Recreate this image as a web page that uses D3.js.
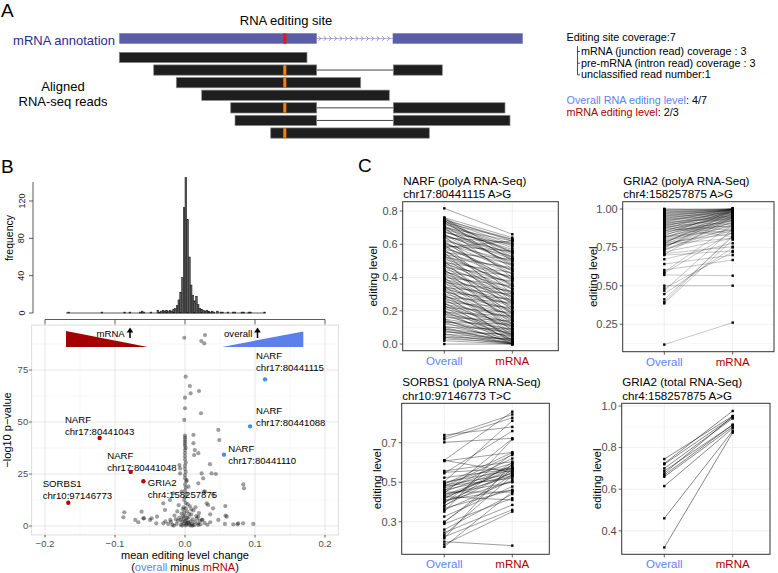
<!DOCTYPE html>
<html><head><meta charset="utf-8">
<script src="https://cdn.jsdelivr.net/npm/d3@7"></script>
<style>body{margin:0;background:#fff}svg{display:block;font-family:"Liberation Sans",Arial,Helvetica,sans-serif}</style>
</head><body><svg id="c" width="778" height="573"></svg>
<script>
// ================= DATA =================
// Panel A : gene model (arbitrary genomic units)
const exonStarts = [0, 273.4];
const exonEnds = [197.4, 403.4];
const editSite = 165.5;
const readBlocks = [
  [[0,187.7]],
  [[34.4,197.4],[274,323]],
  [[57,241.4]],
  [[82.4,270]],
  [[111.4,197.4],[274,385.7]],
  [[115.7,197.4],[274,390.7]],
  [[151.4,310]]
];
const readEdited = [false,true,true,false,true,false,true];
const coverageLines = ["mRNA (junction read) coverage : 3","pre-mRNA (intron read) coverage : 3","unclassified read number:1"];

// Panel B : histogram of mean editing level change (bin width 0.0025)
const histBinStart = [-0.1675,-0.12,-0.0875,-0.08,-0.065,-0.0625,-0.06,-0.05,-0.04,-0.0375,-0.035,-0.0325,-0.03,-0.0275,-0.025,-0.0225,-0.02,-0.0175,-0.015,-0.0125,-0.01,-0.0075,-0.005,-0.0025,0,0.0025,0.005,0.0075,0.01,0.0125,0.015,0.0175,0.02,0.0225,0.025,0.0275,0.03,0.0325,0.035,0.0375,0.04,0.045,0.05,0.0525,0.06,0.0675,0.07,0.08,0.0825,0.09,0.0925,0.1125];
const histCounts = [1,1,1,1,1,2,1,1,3,1,2,3,2,3,2,3,2,4,5,8,14,22,38,113,145,100,60,30,19,13,18,9,5,4,3,2,3,2,1,2,1,2,1,1,1,1,1,1,1,1,1,1];
const histTicks = [0,40,80,120];

// Panel B : volcano, unlabelled sites
const volcX = [-0.001,0.0286,0.0233,0.0276,0.001,0.007,0.020,0.008,0.0,0.0,0.0229,-0.001,0.0476,0.049,0.012,0.012,0.014,0.013,0.019,
  0,0,0,0,0,0,0.001,0,0,0,0,0.001,0,0,0.001,0,0,0.002,0,0.001,0,0.002,0,-0.001,0.001,
  0.0357,0.0238,-0.007,-0.008,-0.007,0.0024,0.005,-0.005,0.019,0.026,0.038,0.044,0.0833,0.0843,0.0286,0.040,-0.0167,-0.0214,-0.031,-0.0286,-0.062,-0.0595,-0.071,-0.05,-0.040,0.031,0.040,0.036,0.0595,0.0476,0.076,0.083,0.0976,0.057,0.019,0.024,-0.031,-0.021,
  -0.0867,-0.088,-0.0667,-0.0586,-0.041,-0.0476,0.027,0.033,0.0576,0.058,0.069,0.075,
  -0.012,-0.010,-0.008,-0.006,-0.005,-0.004,-0.003,-0.002,-0.001,0.000,0.001,0.002,0.003,0.004,0.005,0.006,0.007,0.008,0.009,0.010,0.011,0.012,0.013,0.014,0.016,0.018,0.020,0.022,0.025,0.028,-0.015,-0.018,-0.020,-0.024,-0.009,-0.002,0.004,0.001,-0.006,0.003,-0.001,0.006,0.009,-0.004,0.002,0.000,0.005,-0.003,0.008,0.015,0.017,0.011,-0.011,-0.013,0.021,0.019,0.032,0.036,-0.028,-0.016];
const volcY = [90.5,91.8,88.9,87.8,71.8,67.3,64.9,63.8,61.7,56.6,54.2,51.0,46.2,41.3,43.8,39.8,36.5,34.1,35.0,
  43.5,42.5,41.5,40.5,39.5,38.5,37.5,36.5,35,33.5,32,30.5,29,27.5,26,24.5,23,21.5,20,18.5,17,15.5,14,12.5,11,
  29.7,25.3,25.3,29.3,27.7,22.1,18.9,16.5,20.5,22.9,25.3,25.0,20.0,18.1,16.5,14.9,15.7,12.5,10.9,7.7,6.9,3.7,2.9,2.9,4.5,10.9,8.5,5.6,4.5,2.9,1.3,1.3,1.0,1.0,4.5,2.9,1.3,2.9,
  6.6,4.2,1.8,3.7,1.3,3.7,16.5,10.1,9.6,5.0,0.8,0.8,
  1.0,2.5,4.0,0.5,6.0,2.0,8.0,3.5,1.2,5.0,0.3,2.8,7.0,1.5,4.2,0.6,9.5,2.2,5.5,1.0,3.2,7.5,0.4,2.0,4.8,1.2,6.2,0.8,3.0,1.5,5.0,0.5,2.0,1.0,10.0,9.0,10.5,8.5,3.0,3.8,6.5,5.8,8.0,0.2,0.9,2.4,1.8,4.6,0.2,9.0,3.5,0.2,7.0,3.2,2.5,0.5,0.6,1.8,2.2,0.2];
// labelled sites
const labGene = ["NARF","NARF","NARF","NARF","NARF","GRIA2","SORBS1"];
const labSite = ["chr17:80441115","chr17:80441088","chr17:80441110","chr17:80441043","chr17:80441048","chr4:158257875","chr10:97146773"];
const labX = [0.1143,0.093,0.0557,-0.122,-0.0776,-0.0595,-0.1667];
const labY = [70.5,47.9,34.3,42.3,26.0,21.5,11.2];
const labGroup = ["overall","overall","overall","mRNA","mRNA","mRNA","mRNA"];
const volcXTicks = [-0.2,-0.1,0,0.1,0.2];
const volcYTicks = [0,25,50,75];

// Panel C : paired editing levels
const xCats = ["Overall","mRNA"];
const narfPolyOverall = [0.816,0.76,0.75,0.74,0.73,0.72,0.71,0.70,0.69,0.68,0.67,0.66,0.65,0.64,0.63,0.62,0.61,0.60,0.59,0.58,0.57,0.56,0.55,0.54,0.53,0.52,0.51,0.50,0.49,0.48,0.47,0.46,0.45,0.44,0.43,0.42,0.41,0.40,0.39,0.38,0.37,0.36,0.35,0.34,0.33,0.32,0.31,0.30,0.29,0.28,0.27,0.26,0.25,0.24,0.23,0.22,0.21,0.20,0.19,0.18,0.17,0.16,0.15,0.14,0.13,0.12,0.11,0.10,0.09,0.08,0.07,0.06,0.05,0.04,0.03,0.02,0.00,
  0.755,0.745,0.70,0.65,0.60,0.58,0.55,0.50,0.45,0.40,0.35,0.30,0.25,0.20,0.15,0.10,0.62,0.57,0.52,0.47,0.42,0.37,0.32,0.27,0.22,0.74,0.71,0.66,0.61,0.56,0.53,0.48,0.43,0.38,0.33,0.28,0.23,0.18,0.13,0.08,0.76,0.73,0.69,0.64,0.59,0.54,0.49,0.44,0.39,0.34,0.29,0.24,0.19,0.14,0.09,0.06,0.04,0.745,0.725,0.70,0.675,0.655];
const narfPolyMrna = [0.66,0.64,0.62,0.60,0.63,0.58,0.55,0.62,0.57,0.52,0.60,0.49,0.55,0.61,0.47,0.53,0.44,0.50,0.56,0.42,0.48,0.39,0.51,0.45,0.36,0.46,0.40,0.33,0.43,0.37,0.30,0.41,0.34,0.28,0.38,0.31,0.25,0.35,0.29,0.22,0.32,0.26,0.20,0.30,0.24,0.17,0.27,0.21,0.15,0.25,0.18,0.12,0.22,0.16,0.10,0.19,0.13,0.08,0.17,0.11,0.06,0.14,0.09,0.04,0.12,0.07,0.03,0.09,0.05,0.02,0.06,0.03,0.01,0.03,0.01,0.00,0.00,
  0.50,0.45,0.40,0.30,0.25,0.62,0.20,0.15,0.12,0.08,0.05,0.02,0.01,0.0,0.0,0.0,0.35,0.28,0.24,0.18,0.14,0.10,0.07,0.04,0.02,0.55,0.47,0.42,0.38,0.33,0.27,0.22,0.19,0.16,0.12,0.09,0.05,0.03,0.01,0.0,0.52,0.51,0.48,0.44,0.39,0.35,0.31,0.26,0.23,0.19,0.14,0.11,0.07,0.06,0.02,0.0,0.0,0.63,0.59,0.56,0.54,0.51];
const gria2PolyOverall = [0.118,0.386,0.395,0.412,0.447,0.469,0.484,0.501,0.571,0.582,0.59,0.603,0.642,0.673,0.705,0.70,0.71,0.72,
  0.73,0.74,0.75,0.76,0.77,0.78,0.79,0.80,0.81,0.82,0.83,0.84,0.85,0.86,0.87,0.88,0.89,0.90,0.91,0.92,0.93,0.94,0.95,0.96,0.97,0.98,0.99,1.0,
  0.735,0.745,0.755,0.765,0.775,0.785,0.795,0.805,0.815,0.825,0.835,0.845,0.855,0.865,0.875,0.885,0.895,0.905,0.915,0.925,0.935,0.945,0.955,0.965,0.975,0.985,0.995,1.0,0.99,0.98,0.97,0.96,0.95,0.94,0.93,0.92,0.91,0.90,0.89,0.88,0.78,0.77,0.82,0.86];
const gria2PolyMrna = [0.261,0.80,0.83,0.82,0.75,0.87,0.72,0.501,0.566,0.85,0.90,0.668,0.70,0.777,0.95,0.727,0.755,0.81,
  0.92,0.88,0.96,0.90,0.94,0.97,0.89,0.93,0.99,0.91,0.95,0.98,0.92,0.96,1.0,0.94,0.97,0.99,0.95,1.0,0.98,0.99,1.0,0.99,1.0,1.0,1.0,1.0,
  0.86,0.99,0.93,0.87,1.0,0.95,0.91,0.97,0.94,1.0,0.93,0.97,0.99,0.95,0.98,1.0,0.96,0.98,1.0,0.97,1.0,0.98,1.0,0.99,1.0,0.99,1.0,0.99,0.98,0.97,0.96,0.95,0.94,0.93,0.92,0.90,0.88,0.86,0.84,0.82,0.84,0.81,0.86,0.89];
const sorbsOverall = [0.739,0.727,0.717,0.702,0.611,0.607,0.611,0.557,0.545,0.523,0.503,0.494,0.486,0.478,0.461,0.452,0.444,0.435,0.427,0.415,0.402,0.394,0.382,0.368,0.351,0.326,0.297,0.289,0.245,0.233,0.224,0.216,0.199,0.185,0.173,
  0.50,0.48,0.46,0.44,0.42,0.40,0.49,0.47,0.43,0.41,0.38,0.36,0.30,0.26,0.55,0.45];
const sorbsMrna = [0.78,0.843,0.826,0.722,0.857,0.651,0.55,0.604,0.759,0.567,0.811,0.595,0.541,0.638,0.533,0.575,0.72,0.558,0.41,0.587,0.503,0.643,0.55,0.461,0.717,0.478,0.567,0.419,0.385,0.533,0.36,0.595,0.179,0.351,0.451,
  0.56,0.52,0.62,0.50,0.57,0.55,0.65,0.58,0.53,0.46,0.60,0.51,0.54,0.44,0.57,0.45];
const gria2TotalOverall = [0.745,0.724,0.72,0.6875,0.676,0.66,0.615,0.46,0.32,0.70,0.668];
const gria2TotalMrna = [0.952,0.976,0.946,0.909,0.95,0.90,0.893,0.88,0.872,0.94,0.91];

// ================= DRAW =================
const svg = d3.select("#c");
const BLUE = "#5b84f0", RED = "#b00000";

function txt(g, x, y, s, o = {}) {
  const t = g.append("text").attr("x", x).attr("y", y).text(s)
    .attr("font-size", o.size || 11).attr("fill", o.fill || "#000")
    .attr("text-anchor", o.anchor || "start");
  if (o.rotate) t.attr("transform", `rotate(-90,${x},${y})`);
  if (o.dy) t.attr("dy", o.dy);
  return t;
}

// panel letters
txt(svg, 1, 17, "A", {size: 19});
txt(svg, 1, 173, "B", {size: 19});
txt(svg, 358, 172, "C", {size: 19});

// ---------- Panel A ----------
const gA = svg.append("g");
const gx = d3.scaleLinear().domain([0, 403.4]).range([119.3, 522.7]);
const rowY = d3.scaleLinear().domain([0, 1]).range([52.3, 64.9]);
txt(gA, 286, 25, "RNA editing site", {size: 13, anchor: "middle"});
txt(gA, 115, 44.5, "mRNA annotation", {size: 13, anchor: "end", fill: "#2b2b8f"});
// intron
gA.append("line").attr("x1", gx(exonEnds[0])).attr("x2", gx(exonStarts[1])).attr("y1", 38.5).attr("y2", 38.5)
  .attr("stroke", "#a0a0da").attr("stroke-width", 0.8);
d3.range(gx(exonEnds[0]) + 3, gx(exonStarts[1]) - 2, 5.3).forEach(cx => {
  gA.append("path").attr("d", `M${cx - 1.3},${36.3}L${cx + 1.2},${38.5}L${cx - 1.3},${40.7}`)
    .attr("fill", "none").attr("stroke", "#7c7cc8").attr("stroke-width", 0.8);
});
exonStarts.forEach((s, i) => {
  gA.append("rect").attr("x", gx(s)).attr("y", 33.3).attr("width", gx(exonEnds[i]) - gx(s)).attr("height", 10.4)
    .attr("fill", "#5b5ea6");
});
gA.append("rect").attr("x", gx(editSite) - 1.5).attr("y", 33.3).attr("width", 3).attr("height", 10.4).attr("fill", "#ff1010");
readBlocks.forEach((blocks, i) => {
  const y0 = rowY(i), h = 10.3;
  if (blocks.length > 1) {
    gA.append("line").attr("x1", gx(blocks[0][1])).attr("x2", gx(blocks[1][0])).attr("y1", y0 + h / 2).attr("y2", y0 + h / 2)
      .attr("stroke", "#444").attr("stroke-width", 1);
  }
  blocks.forEach(b => {
    gA.append("rect").attr("x", gx(b[0])).attr("y", y0).attr("width", gx(b[1]) - gx(b[0])).attr("height", h)
      .attr("fill", "#1e1e1e").attr("stroke", "#8a8a8a").attr("stroke-width", 0.7);
  });
  if (readEdited[i]) {
    gA.append("rect").attr("x", gx(editSite) - 1.5).attr("y", y0 + 0.4).attr("width", 3).attr("height", h - 0.8).attr("fill", "#ff7f00");
  }
});
txt(gA, 63, 90.7, "Aligned", {size: 13, anchor: "middle"});
txt(gA, 63, 106, "RNA-seq reads", {size: 13, anchor: "middle"});
// coverage text
txt(gA, 566.5, 40.7, "Editing site coverage:7", {size: 10.8});
const covY = [55, 66.7, 78.3];
gA.append("line").attr("x1", 577.5).attr("x2", 577.5).attr("y1", 46).attr("y2", covY[2] - 3.5).attr("stroke", "#222").attr("stroke-width", 0.8);
coverageLines.forEach((s, i) => {
  gA.append("line").attr("x1", 577.5).attr("x2", 580).attr("y1", covY[i] - 3.5).attr("y2", covY[i] - 3.5).attr("stroke", "#222").attr("stroke-width", 0.8);
  txt(gA, 581, covY[i], s, {size: 10.8});
});
const t1 = txt(gA, 566.5, 104, "", {size: 10.8});
t1.append("tspan").attr("fill", BLUE).text("Overall RNA editing level");
t1.append("tspan").text(": 4/7");
const t2 = txt(gA, 566.5, 115.7, "", {size: 10.8});
t2.append("tspan").attr("fill", RED).text("mRNA editing level");
t2.append("tspan").text(": 2/3");

// ---------- Panel B : histogram ----------
const gB = svg.append("g");
const xV = d3.scaleLinear().domain([-0.2, 0.2]).range([45, 325]);
const yH = d3.scaleLinear().domain([0, 120]).range([313, 201]);
gB.append("line").attr("x1", xV(-0.17)).attr("x2", xV(0.115)).attr("y1", yH(0)).attr("y2", yH(0)).attr("stroke", "#333").attr("stroke-width", 0.8);
histBinStart.forEach((b, i) => {
  gB.append("rect").attr("x", xV(b)).attr("width", xV(b + 0.0025) - xV(b))
    .attr("y", yH(histCounts[i])).attr("height", yH(0) - yH(histCounts[i]))
    .attr("fill", "#5a5a5a").attr("stroke", "#1a1a1a").attr("stroke-width", 0.5);
});
gB.append("line").attr("x1", 33).attr("x2", 33).attr("y1", yH(0)).attr("y2", 182).attr("stroke", "#333").attr("stroke-width", 0.8);
histTicks.forEach(t => {
  gB.append("line").attr("x1", 29).attr("x2", 33).attr("y1", yH(t)).attr("y2", yH(t)).attr("stroke", "#333").attr("stroke-width", 0.8);
  txt(gB, 24.5, yH(t), String(t), {size: 9, anchor: "middle", rotate: true, fill: "#222"});
});
txt(gB, 13, 238, "frequency", {size: 10.5, anchor: "middle", rotate: true});
gB.append("line").attr("x1", xV(-0.2)).attr("x2", xV(0.2)).attr("y1", 319.5).attr("y2", 319.5).attr("stroke", "#333").attr("stroke-width", 0.8);
volcXTicks.forEach(t => {
  gB.append("line").attr("x1", xV(t)).attr("x2", xV(t)).attr("y1", 319.5).attr("y2", 324.5).attr("stroke", "#333").attr("stroke-width", 0.8);
});

// ---------- Panel B : volcano ----------
const yV = d3.scaleLinear().domain([0, 75]).range([526, 370]);
const pL = xV(-0.219), pR = xV(0.219), pT = yV(96.6), pB = yV(-4.3);
[-0.15, -0.05, 0.05, 0.15].forEach(t => gB.append("line").attr("x1", xV(t)).attr("x2", xV(t)).attr("y1", pT).attr("y2", pB).attr("stroke", "#f1f1f1").attr("stroke-width", 0.6));
[12.5, 37.5, 62.5, 87.5].forEach(t => gB.append("line").attr("x1", pL).attr("x2", pR).attr("y1", yV(t)).attr("y2", yV(t)).attr("stroke", "#f1f1f1").attr("stroke-width", 0.6));
volcXTicks.forEach(t => gB.append("line").attr("x1", xV(t)).attr("x2", xV(t)).attr("y1", pT).attr("y2", pB).attr("stroke", "#e4e4e4").attr("stroke-width", 0.9));
volcYTicks.forEach(t => gB.append("line").attr("x1", pL).attr("x2", pR).attr("y1", yV(t)).attr("y2", yV(t)).attr("stroke", "#e4e4e4").attr("stroke-width", 0.9));
gB.append("rect").attr("x", pL).attr("y", pT).attr("width", pR - pL).attr("height", pB - pT).attr("fill", "none").attr("stroke", "#d4d4d4").attr("stroke-width", 0.8);
// axes
volcYTicks.forEach(t => {
  gB.append("line").attr("x1", pL - 2.5).attr("x2", pL).attr("y1", yV(t)).attr("y2", yV(t)).attr("stroke", "#333").attr("stroke-width", 0.8);
  txt(gB, pL - 3.5, yV(t), String(t), {size: 9.5, anchor: "end", fill: "#4d4d4d", dy: "0.35em"});
});
volcXTicks.forEach(t => {
  gB.append("line").attr("x1", xV(t)).attr("x2", xV(t)).attr("y1", pB).attr("y2", pB + 2.5).attr("stroke", "#333").attr("stroke-width", 0.8);
  txt(gB, xV(t), 547, t === 0 ? "0.0" : d3.format(".1f")(t).replace("-", "\u2212"), {size: 9.5, anchor: "middle", fill: "#4d4d4d"});
});
txt(gB, 185, 559, "mean editing level change", {size: 11, anchor: "middle"});
const xt2 = txt(gB, 185, 570.5, "", {size: 11, anchor: "middle"});
xt2.append("tspan").text("(");
xt2.append("tspan").attr("fill", BLUE).text("overall");
xt2.append("tspan").text(" minus ");
xt2.append("tspan").attr("fill", RED).text("mRNA");
xt2.append("tspan").text(")");
txt(gB, 11, 430, "\u2212log10 p\u2212value", {size: 11, anchor: "middle", rotate: true});
// direction triangles
const triRedX = [-0.17, -0.17, -0.053], triRedY = [93.75, 86.1, 86.1];
const triBlueX = [0.053, 0.169, 0.169], triBlueY = [86.1, 93.5, 86.1];
const poly = (xs, ys) => xs.map((x, i) => [xV(x), yV(ys[i])].join(",")).join(" ");
gB.append("polygon").attr("points", poly(triRedX, triRedY)).attr("fill", "#a50000");
gB.append("polygon").attr("points", poly(triBlueX, triBlueY)).attr("fill", "#5a80ec");
function upArrow(cx) {
  gB.append("line").attr("x1", cx).attr("x2", cx).attr("y1", 331).attr("y2", 338).attr("stroke", "#000").attr("stroke-width", 1.5);
  gB.append("path").attr("d", `M${cx - 3.3},${332.5}L${cx},${327.5}L${cx + 3.3},${332.5}Z`).attr("fill", "#000");
}
txt(gB, 96.5, 336.5, "mRNA", {size: 9.6});
upArrow(130);
txt(gB, 224, 336.5, "overall", {size: 9.6});
upArrow(257.5);
// points
volcX.forEach((x, i) => {
  gB.append("circle").attr("cx", xV(x)).attr("cy", yV(volcY[i])).attr("r", 2.1).attr("fill", "#000").attr("fill-opacity", 0.38);
});
const labDx = [-9, 6, 4.3, -34.7, -23.4, 4.4, -25.6];
const labDy = [-20, -12.8, -3, -14.7, -13, 4.7, -16];
labX.forEach((x, i) => {
  const px = xV(x), py = yV(labY[i]);
  gB.append("circle").attr("cx", px).attr("cy", py).attr("r", 2.2).attr("fill", labGroup[i] === "overall" ? "#3f8ef5" : "#c00000");
  txt(gB, px + labDx[i], py + labDy[i], labGene[i], {size: 9.6});
  txt(gB, px + labDx[i], py + labDy[i] + 12, labSite[i], {size: 9.6});
});

// ---------- Panel C ----------
function pairPlot(cfg) {
  const g = svg.append("g");
  const y = d3.scaleLinear().domain(cfg.yDomain).range([cfg.bottom, cfg.top]);
  const x = d3.scalePoint().domain(xCats).range(cfg.xRange);
  cfg.minor.forEach(t => g.append("line").attr("x1", cfg.left).attr("x2", cfg.right).attr("y1", y(t)).attr("y2", y(t)).attr("stroke", "#f4f4f4").attr("stroke-width", 0.6));
  cfg.ticks.forEach(t => g.append("line").attr("x1", cfg.left).attr("x2", cfg.right).attr("y1", y(t)).attr("y2", y(t)).attr("stroke", "#ececec").attr("stroke-width", 0.8));
  xCats.forEach(c => g.append("line").attr("x1", x(c)).attr("x2", x(c)).attr("y1", cfg.top).attr("y2", cfg.bottom).attr("stroke", "#ececec").attr("stroke-width", 0.8));
  cfg.overall.forEach((o, i) => {
    g.append("line").attr("x1", x("Overall")).attr("y1", y(o)).attr("x2", x("mRNA")).attr("y2", y(cfg.mrna[i]))
      .attr("stroke", "#000").attr("stroke-opacity", cfg.lineOpacity).attr("stroke-width", cfg.lineWidth);
  });
  cfg.overall.forEach((o, i) => {
    g.append("rect").attr("x", x("Overall") - 1.2).attr("y", y(o) - 1.2).attr("width", 2.4).attr("height", 2.4).attr("fill", "#000");
    g.append("rect").attr("x", x("mRNA") - 1.2).attr("y", y(cfg.mrna[i]) - 1.2).attr("width", 2.4).attr("height", 2.4).attr("fill", "#000");
  });
  g.append("rect").attr("x", cfg.left).attr("y", cfg.top).attr("width", cfg.right - cfg.left).attr("height", cfg.bottom - cfg.top)
    .attr("fill", "none").attr("stroke", "#333").attr("stroke-width", 1);
  cfg.ticks.forEach(t => {
    g.append("line").attr("x1", cfg.left - 3).attr("x2", cfg.left).attr("y1", y(t)).attr("y2", y(t)).attr("stroke", "#333").attr("stroke-width", 0.8);
    txt(g, cfg.left - 5, y(t), d3.format(cfg.fmt)(t), {size: 11, anchor: "end", fill: "#4d4d4d", dy: "0.35em"});
  });
  xCats.forEach(c => {
    g.append("line").attr("x1", x(c)).attr("x2", x(c)).attr("y1", cfg.bottom).attr("y2", cfg.bottom + 3).attr("stroke", "#333").attr("stroke-width", 0.8);
    txt(g, x(c), cfg.bottom + 14, c, {size: 11.5, anchor: "middle", fill: c === "Overall" ? BLUE : RED});
  });
  txt(g, cfg.yTitleX, (cfg.top + cfg.bottom) / 2, "editing level", {size: 11.5, anchor: "middle", rotate: true, dy: "0.35em"});
  txt(g, cfg.left + 0.5, cfg.top - 17, cfg.title1, {size: 11.6});
  txt(g, cfg.left + 0.5, cfg.top - 3.6, cfg.title2, {size: 11.6});
}
pairPlot({left: 402.7, right: 558.3, top: 201.7, bottom: 350.7, xRange: [444.3, 512.3], yDomain: [-0.040, 0.856],
  ticks: [0, 0.2, 0.4, 0.6, 0.8], minor: [0.1, 0.3, 0.5, 0.7], fmt: ".1f", yTitleX: 373.3,
  title1: "NARF (polyA RNA-Seq)", title2: "chr17:80441115 A>G", overall: narfPolyOverall, mrna: narfPolyMrna, lineOpacity: 0.42, lineWidth: 0.8});
pairPlot({left: 622.7, right: 774, top: 201.7, bottom: 351.7, xRange: [664.3, 732.7], yDomain: [0.0716, 1.0475],
  ticks: [0.25, 0.5, 0.75, 1.0], minor: [0.125, 0.375, 0.625, 0.875], fmt: ".2f", yTitleX: 593.3,
  title1: "GRIA2 (polyA RNA-Seq)", title2: "chr4:158257875 A>G", overall: gria2PolyOverall, mrna: gria2PolyMrna, lineOpacity: 0.32, lineWidth: 0.7});
pairPlot({left: 401.7, right: 549.3, top: 403.3, bottom: 554.3, xRange: [444.3, 512.3], yDomain: [0.135, 0.8995],
  ticks: [0.3, 0.5, 0.7], minor: [0.2, 0.4, 0.6, 0.8], fmt: ".1f", yTitleX: 376.5,
  title1: "SORBS1 (polyA RNA-Seq)", title2: "chr10:97146773 T>C", overall: sorbsOverall, mrna: sorbsMrna, lineOpacity: 0.55, lineWidth: 0.7});
pairPlot({left: 621.7, right: 770, top: 403.3, bottom: 554.3, xRange: [664.3, 732.7], yDomain: [0.287, 1.013],
  ticks: [0.4, 0.6, 0.8, 1.0], minor: [0.3, 0.5, 0.7, 0.9], fmt: ".1f", yTitleX: 596.5,
  title1: "GRIA2 (total RNA-Seq)", title2: "chr4:158257875 A>G", overall: gria2TotalOverall, mrna: gria2TotalMrna, lineOpacity: 0.6, lineWidth: 0.8});
</script></body></html>
